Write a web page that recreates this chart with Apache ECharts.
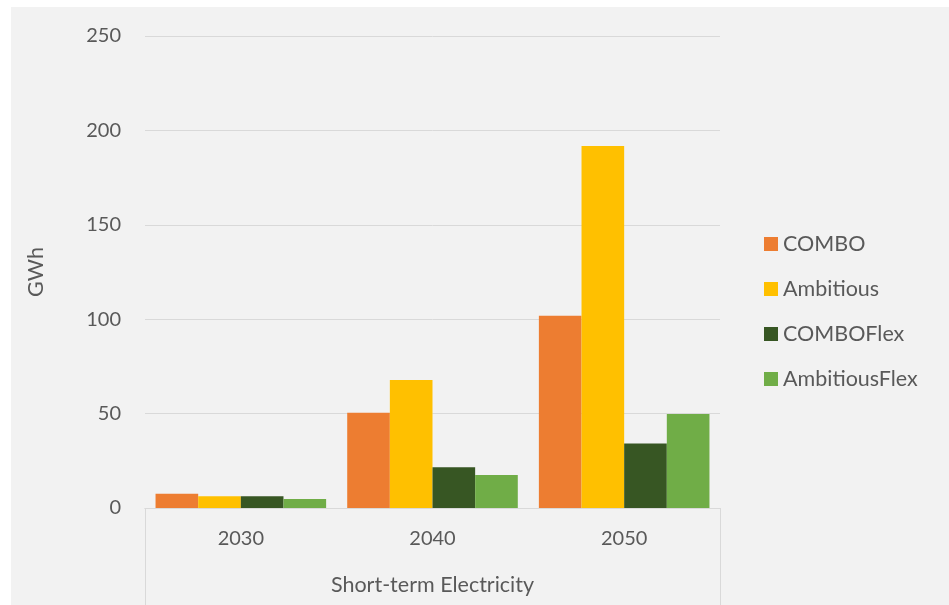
<!DOCTYPE html>
<html>
<head>
<meta charset="utf-8">
<script src="https://cdn.jsdelivr.net/npm/echarts@6/dist/echarts.min.js"></script>
<style>
  html, body { margin: 0; padding: 0; background: #ffffff; }
  #chart { position: absolute; left: 11px; top: 7px; width: 938px; height: 598px; background: #f2f2f2; }
</style>
</head>
<body>
<div id="chart"></div>
<script>
// data
const years = ['2030', '2040', '2050'];
const groupName = ['Short-term Electricity'];
const combo = [7.5, 50.5, 101.8];
const ambitious = [6.2, 67.8, 191.8];
const comboFlex = [6.2, 21.6, 34.2];
const ambitiousFlex = [4.8, 17.5, 49.8];
const yTicks = { min: 0, max: 250, step: 50 };

const seriesDefs = [
  { name: 'COMBO', data: combo, color: '#ED7D31' },
  { name: 'Ambitious', data: ambitious, color: '#FFC000' },
  { name: 'COMBOFlex', data: comboFlex, color: '#375623' },
  { name: 'AmbitiousFlex', data: ambitiousFlex, color: '#70AD47' }
];

const font = 'Lato, "Open Sans", sans-serif';
const txt = '#595959';
const line = '#d9d9d9';

const chart = echarts.init(document.getElementById('chart'));

chart.setOption({
  animation: false,
  textStyle: { fontFamily: font },
  grid: { left: 134, top: 29, right: 229, bottom: 97 },
  legend: {
    orient: 'vertical',
    left: 748,
    top: 221,
    icon: 'rect',
    itemWidth: 14,
    itemHeight: 14,
    itemGap: 23,
    textStyle: { color: txt, fontSize: 21.5, fontFamily: font },
    data: seriesDefs.map(s => s.name)
  },
  xAxis: [
    {
      type: 'category',
      data: years,
      axisLine: { show: true, lineStyle: { color: line, width: 1 } },
      axisTick: { show: false },
      axisLabel: { color: txt, fontSize: 20, margin: 21, fontFamily: font }
    },
    {
      type: 'category',
      position: 'bottom',
      data: groupName,
      axisLine: { show: true, lineStyle: { color: line, width: 1 } },
      axisTick: { show: true, length: 100, lineStyle: { color: line } },
      axisLabel: { color: txt, fontSize: 21.5, margin: 66, fontFamily: font }
    }
  ],
  yAxis: {
    type: 'value',
    min: yTicks.min,
    max: yTicks.max,
    interval: yTicks.step,
    name: 'GWh',
    nameLocation: 'middle',
    nameGap: 98,
    nameTextStyle: { color: txt, fontSize: 21.5, fontFamily: font },
    axisLine: { show: false },
    axisTick: { show: false },
    axisLabel: { color: txt, fontSize: 20, margin: 24, fontFamily: font },
    splitLine: { lineStyle: { color: line, width: 1 } }
  },
  series: seriesDefs.map(s => ({
    name: s.name,
    type: 'bar',
    xAxisIndex: 0,
    data: s.data,
    barGap: '0%',
    barCategoryGap: '11%',
    itemStyle: { color: s.color }
  }))
});
</script>
</body>
</html>
